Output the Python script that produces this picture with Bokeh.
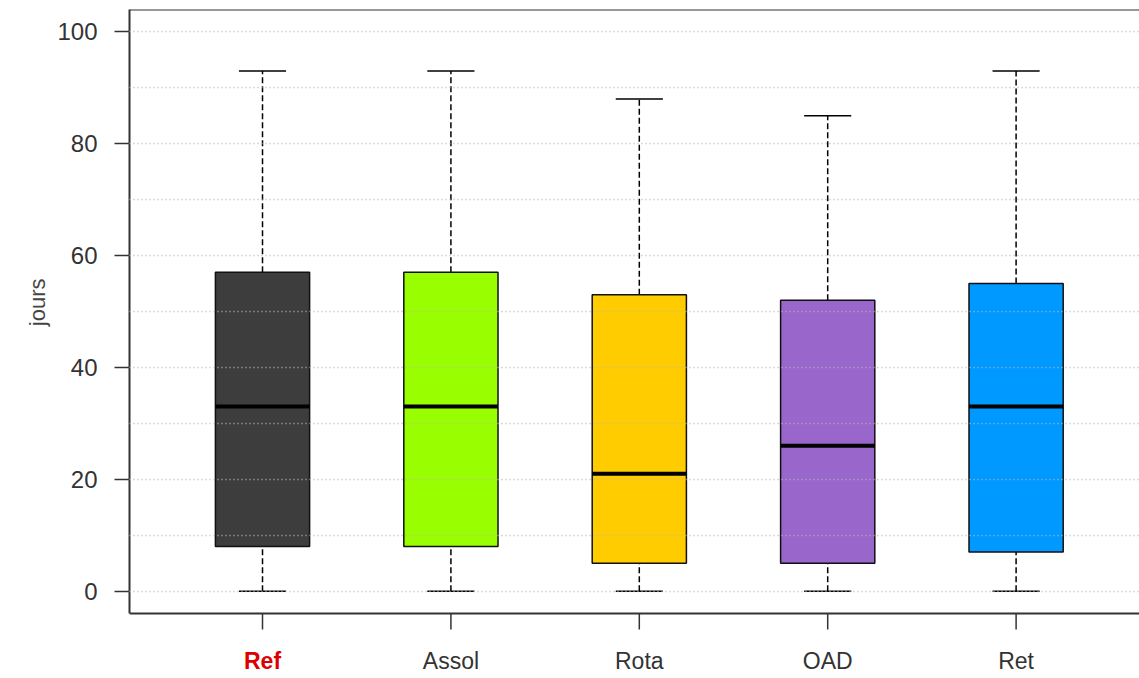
from bokeh.plotting import figure
from bokeh.models import (Range1d, FixedTicker, ColumnDataSource, Span, Title)
from bokeh.core.properties import value
from bokeh.embed import file_html
from bokeh.resources import INLINE

# ---- data ----
categories = ["Ref", "Assol", "Rota", "OAD", "Ret"]
positions = [1, 2, 3, 4, 5]
whisker_low = [0, 0, 0, 0, 0]
q1 = [8, 8, 5, 5, 7]
median = [33, 33, 21, 26, 33]
q3 = [57, 57, 53, 52, 55]
whisker_high = [93, 93, 88, 85, 93]
colors = ["#3d3d3d", "#99ff00", "#ffcc00", "#9966cc", "#0099ff"]
label_colors = ["#dd0000", "#333333", "#333333", "#333333", "#333333"]
label_styles = ["bold", "normal", "normal", "normal", "normal"]
y_ticks = [0, 20, 40, 60, 80, 100]
grid_ticks = [0, 10, 20, 30, 40, 50, 60, 70, 80, 90, 100]
y_title = "jours"

BOX_W = 0.5
CAP_W = 0.25
FONT = "Liberation Sans"

Y_LO, Y_HI = -4, 104          # plotting box limits (R-style 4% padding)
PX_PER_UNIT = 604 / (Y_HI - Y_LO)
BOTTOM_PAD_PX = 65            # room for category labels, inside the frame
TICK_PX = 16

x_range = Range1d(0.294, 5.655)
y_range = Range1d(Y_LO - BOTTOM_PAD_PX / PX_PER_UNIT, Y_HI)

p = figure(width=1139, height=678, x_range=x_range, y_range=y_range,
           output_backend="svg", toolbar_location=None, x_axis_location=None,
           min_border_left=129, min_border_top=9, min_border_bottom=0,
           min_border_right=0, outline_line_color=None,
           background_fill_color="white", border_fill_color="white")

tick_end = Y_LO - TICK_PX / PX_PER_UNIT
src = ColumnDataSource(dict(
    x=positions, lo=whisker_low, q1=q1, med=median, q3=q3, hi=whisker_high,
    color=colors, cat=categories, lc=label_colors, ls=label_styles,
    xl=[v - BOX_W / 2 for v in positions], xr=[v + BOX_W / 2 for v in positions],
    cl=[v - CAP_W / 2 for v in positions], cr=[v + CAP_W / 2 for v in positions],
    base=[Y_LO] * len(positions), tick_end=[tick_end] * len(positions),
))

# whiskers
p.segment(x0="x", y0="q3", x1="x", y1="hi", source=src, line_color="black",
          line_width=1.5, line_dash="6 3")
p.segment(x0="x", y0="lo", x1="x", y1="q1", source=src, line_color="black",
          line_width=1.5, line_dash="6 3")
# caps
p.segment(x0="cl", y0="hi", x1="cr", y1="hi", source=src, line_color="black", line_width=1.5)
p.segment(x0="cl", y0="lo", x1="cr", y1="lo", source=src, line_color="black", line_width=1.5)
# boxes
p.vbar(x="x", width=BOX_W, bottom="q1", top="q3", source=src, fill_color="color",
       line_color="#111111", line_width=1.5)
# medians
p.segment(x0="xl", y0="med", x1="xr", y1="med", source=src, line_color="black", line_width=4)

# grid on top
p.xgrid.visible = False
p.ygrid.ticker = FixedTicker(ticks=grid_ticks)
p.ygrid.grid_line_color = "#b8b8b8"
p.ygrid.grid_line_dash = "1 3"
p.ygrid.grid_line_width = 1.5
p.ygrid.level = "overlay"

# left axis
ya = p.yaxis[0]
ya.ticker = FixedTicker(ticks=y_ticks)
ya.bounds = (Y_LO, Y_HI)
ya.major_tick_out = 15
ya.major_tick_in = 0
ya.minor_tick_line_color = None
ya.major_tick_line_width = 1.5
ya.major_tick_line_color = "#333333"
ya.axis_line_color = "#333333"
ya.axis_line_width = 2
ya.major_label_text_font = FONT
ya.major_label_text_font_size = "24px"
ya.major_label_text_color = "#333333"
ya.major_label_standoff = 17

# y-axis title, placed in the left side panel so it can sit above the frame centre
p.add_layout(Title(text=y_title, align="right", offset=269,
                   text_font=FONT, text_font_style="normal",
                   text_font_size="22px", text_color="#444444"), "left")

# box border: top and bottom
p.add_layout(Span(location=Y_HI, dimension="width", line_color="#333333", line_width=2))
p.add_layout(Span(location=Y_LO, dimension="width", line_color="#333333", line_width=2))

# x ticks
p.segment(x0="x", y0="base", x1="x", y1="tick_end", source=src,
          line_color="#333333", line_width=1.5)

# category labels
p.text(x="x", y="base", text="cat", source=src, y_offset=47,
       text_align="center", text_baseline="middle",
       text_font=value(FONT), text_font_size="23px",
       text_color="lc", text_font_style="ls")

open("out.html", "w").write(file_html(p, INLINE))
